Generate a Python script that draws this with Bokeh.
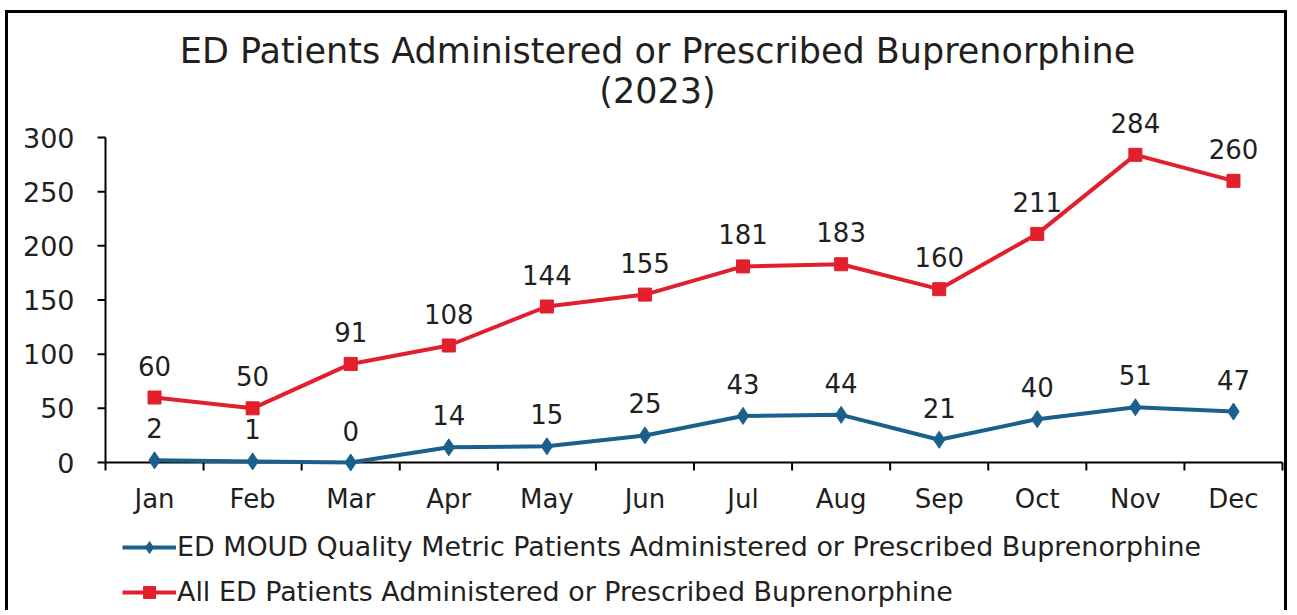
from bokeh.plotting import figure
from bokeh.models import (ColumnDataSource, Range1d, LabelSet, Label, Legend, LegendItem)
from bokeh.core.properties import value
from bokeh.embed import file_html
from bokeh.resources import INLINE

months = ["Jan", "Feb", "Mar", "Apr", "May", "Jun", "Jul", "Aug", "Sep", "Oct", "Nov", "Dec"]
moud = [2, 1, 0, 14, 15, 25, 43, 44, 21, 40, 51, 47]
all_ed = [60, 50, 91, 108, 144, 155, 181, 183, 160, 211, 284, 260]
y_ticks = [0, 50, 100, 150, 200, 250, 300]

title_line1 = "ED Patients Administered or Prescribed Buprenorphine"
title_line2 = "(2023)"
label_moud = "ED MOUD Quality Metric Patients Administered or Prescribed Buprenorphine"
label_all = "All ED Patients Administered or Prescribed Buprenorphine"

BLUE = "#1b5f8c"
RED = "#e21f2c"
FONT = "DejaVu Sans"
TXT = "#231f20"

# ---- layout (pixels) ----
W, H = 1282, 600            # canvas size
CX, CY = 8, 13              # canvas origin on page
AX_L, AX_R = 105, 1282      # page x of axis start / end
AX_B, AX_T = 462, 137       # page y of y=0 / y=300
n = len(months)
ymax = max(y_ticks)
ppx = (AX_R - AX_L) / n     # px per x unit
ppy = (AX_B - AX_T) / ymax  # px per y unit
x_start = (CX - AX_L) / ppx
x_end = (CX + W - AX_L) / ppx
y_end = (AX_B - CY) / ppy
y_start = (AX_B - (CY + H)) / ppy

p = figure(width=W, height=H, output_backend="svg", toolbar_location=None,
           x_range=Range1d(x_start, x_end), y_range=Range1d(y_start, y_end),
           x_axis_location=None, y_axis_location=None, title=None,
           min_border=0, min_border_left=0, min_border_right=0,
           min_border_top=0, min_border_bottom=0)
p.styles = {"margin-left": "5px", "margin-top": "10px",
            "border-top": "3px solid black", "border-left": "3px solid black",
            "border-right": "3px solid black"}
p.outline_line_color = None
p.grid.visible = False
p.background_fill_color = "white"
p.border_fill_color = "white"

xs = [i + 0.5 for i in range(n)]
src = ColumnDataSource(dict(x=xs, moud=moud, all_ed=all_ed,
                            moud_t=[str(v) for v in moud], all_t=[str(v) for v in all_ed]))

# ---- axes drawn with the plot's scales ----
tick_px = 8
p.segment(x0=[0, 0], y0=[0, 0], x1=[0, n], y1=[ymax, 0], line_color="black", line_width=2)
p.segment(x0=[0] * len(y_ticks), y0=y_ticks, x1=[-tick_px / ppx] * len(y_ticks), y1=y_ticks,
          line_color="black", line_width=2)
bounds = list(range(n + 1))
p.segment(x0=bounds, y0=[0] * len(bounds), x1=bounds, y1=[-tick_px / ppy] * len(bounds),
          line_color="black", line_width=2)

ysrc = ColumnDataSource(dict(x=[0] * len(y_ticks), y=y_ticks, t=[str(v) for v in y_ticks]))
p.add_layout(LabelSet(x="x", y="y", text="t", source=ysrc, x_offset=-31,
                      text_align="right", text_baseline="middle",
                      text_font=value(FONT), text_font_size="27px", text_color=TXT))
xsrc = ColumnDataSource(dict(x=xs, y=[0] * n, t=months))
p.add_layout(LabelSet(x="x", y="y", text="t", source=xsrc, y_offset=-36,
                      text_align="center", text_baseline="middle",
                      text_font=value(FONT), text_font_size="26px", text_color=TXT))

# ---- series ----
r_line = p.line("x", "all_ed", source=src, line_color=RED, line_width=4)
r_pts = p.scatter("x", "all_ed", source=src, marker="square", size=13,
                  fill_color=RED, line_color=RED)
b_line = p.line("x", "moud", source=src, line_color=BLUE, line_width=4)
b_pts = p.scatter("x", "moud", source=src, marker="diamond", size=17,
                  fill_color=BLUE, line_color=BLUE)

for col, txt in (("all_ed", "all_t"), ("moud", "moud_t")):
    p.add_layout(LabelSet(x="x", y=col, text=txt, source=src, y_offset=32,
                          text_align="center", text_baseline="middle",
                          text_font=value(FONT), text_font_size="26px", text_color=TXT))

# ---- title ----
tx = 657 - CX
p.add_layout(Label(x=tx, y=H - (50 - CY), x_units="screen", y_units="screen", text=title_line1,
                   text_align="center", text_baseline="middle", text_font=FONT,
                   text_font_size="35px", text_color=TXT))
p.add_layout(Label(x=tx, y=H - (90 - CY), x_units="screen", y_units="screen", text=title_line2,
                   text_align="center", text_baseline="middle", text_font=FONT,
                   text_font_size="35px", text_color=TXT))

# ---- legend ----
legend = Legend(items=[LegendItem(label=label_moud, renderers=[b_line, b_pts]),
                       LegendItem(label=label_all, renderers=[r_line, r_pts])],
                location=(122 - CX, (CY + H) - 607), orientation="vertical",
                border_line_color=None, background_fill_alpha=0,
                padding=0, margin=0, spacing=14, glyph_width=54, glyph_height=30,
                label_height=30, label_standoff=1, label_text_font=FONT,
                label_text_font_size="26.9px", label_text_color=TXT,
                label_text_baseline="middle")
p.add_layout(legend, "center")

open("out.html", "w").write(file_html(p, INLINE))
